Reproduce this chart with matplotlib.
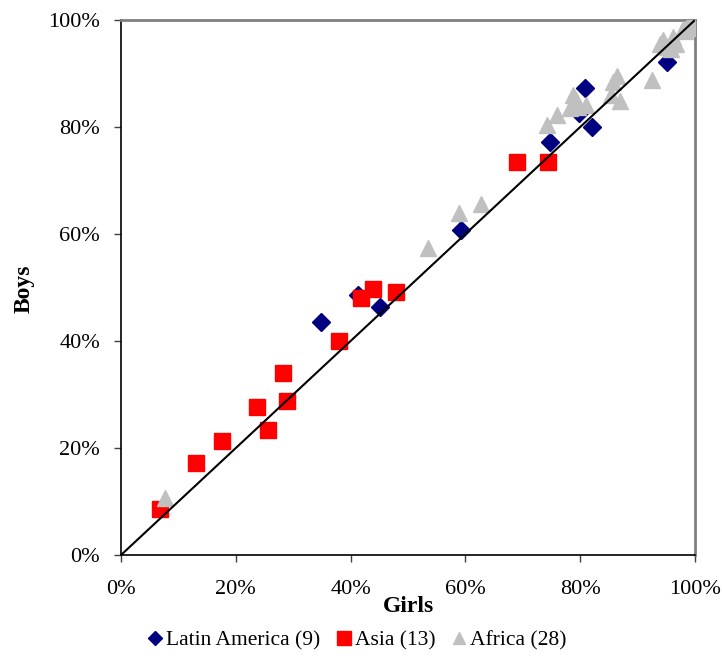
import numpy as np
import matplotlib.pyplot as plt
from matplotlib.ticker import PercentFormatter

plt.rcParams["font.family"] = ["Liberation Serif", "DejaVu Serif"]

# Latin America (9)
latam_girls = [0.348, 0.413, 0.451, 0.592, 0.747, 0.798, 0.808, 0.821, 0.951]
latam_boys = [0.436, 0.486, 0.464, 0.607, 0.772, 0.826, 0.873, 0.800, 0.921]

# Asia (13)
asia_girls = [0.068, 0.131, 0.176, 0.237, 0.256, 0.282, 0.289, 0.380,
              0.418, 0.439, 0.479, 0.690, 0.744]
asia_boys = [0.086, 0.172, 0.213, 0.277, 0.234, 0.340, 0.288, 0.400,
             0.480, 0.497, 0.492, 0.735, 0.735]

# Africa (28)
africa_girls = [0.077, 0.535, 0.589, 0.627, 0.742, 0.760, 0.787, 0.783,
                0.797, 0.810, 0.792, 0.864, 0.857, 0.854, 0.869, 0.925,
                0.939, 0.945, 0.962, 0.967, 0.951, 0.979, 0.988, 0.996,
                1.000, 0.983, 0.993, 0.958]
africa_boys = [0.107, 0.574, 0.639, 0.656, 0.804, 0.822, 0.860, 0.835,
               0.838, 0.842, 0.850, 0.895, 0.885, 0.860, 0.848, 0.888,
               0.955, 0.962, 0.968, 0.955, 0.950, 0.983, 0.990, 0.998,
               0.993, 0.980, 0.985, 0.945]

fig = plt.figure(figsize=(7.22, 6.62), dpi=100)
ax = fig.add_axes([0.1676, 0.1616, 0.795, 0.8082])

ax.plot(latam_girls, latam_boys, linestyle="none", marker="D",
        markersize=8.8, color="#000080", label="Latin America (9)", zorder=3)
ax.plot(asia_girls, asia_boys, linestyle="none", marker="s",
        markersize=11.3, color="#FF0000", label="Asia (13)", zorder=3)
ax.plot(africa_girls, africa_boys, linestyle="none", marker="^",
        markersize=11, color="#C0C0C0", label="Africa (28)", zorder=3)

ax.plot([0, 1], [0, 1], color="black", linewidth=1.5, zorder=4)

ax.set_xlim(0, 1)
ax.set_ylim(0, 1)
ax.set_xticks(np.arange(0, 1.01, 0.2))
ax.set_yticks(np.arange(0, 1.01, 0.2))
ax.xaxis.set_major_formatter(PercentFormatter(1.0, decimals=0))
ax.yaxis.set_major_formatter(PercentFormatter(1.0, decimals=0))
ax.tick_params(axis="both", direction="out", length=5, width=1,
               labelsize=16, color="#404040")
ax.tick_params(axis="x", pad=13)
ax.tick_params(axis="y", pad=10)

for side in ["top", "right"]:
    ax.spines[side].set_color("#808080")
    ax.spines[side].set_linewidth(2)
for side in ["left", "bottom"]:
    ax.spines[side].set_color("black")
    ax.spines[side].set_linewidth(1.2)

ax.set_xlabel("Girls", fontsize=17, fontweight="bold")
ax.xaxis.set_label_coords(0.5, -0.076)
ax.set_ylabel("Boys", fontsize=17, fontweight="bold")
ax.yaxis.set_label_coords(-0.15, 0.497)

fig.legend(loc="center", bbox_to_anchor=(0.495, 0.033), ncol=3,
           frameon=False, fontsize=15.5, handlelength=0.6, markerscale=0.85,
           handletextpad=0.2, columnspacing=0.8, borderaxespad=0)

plt.savefig("out.png", dpi=100)
